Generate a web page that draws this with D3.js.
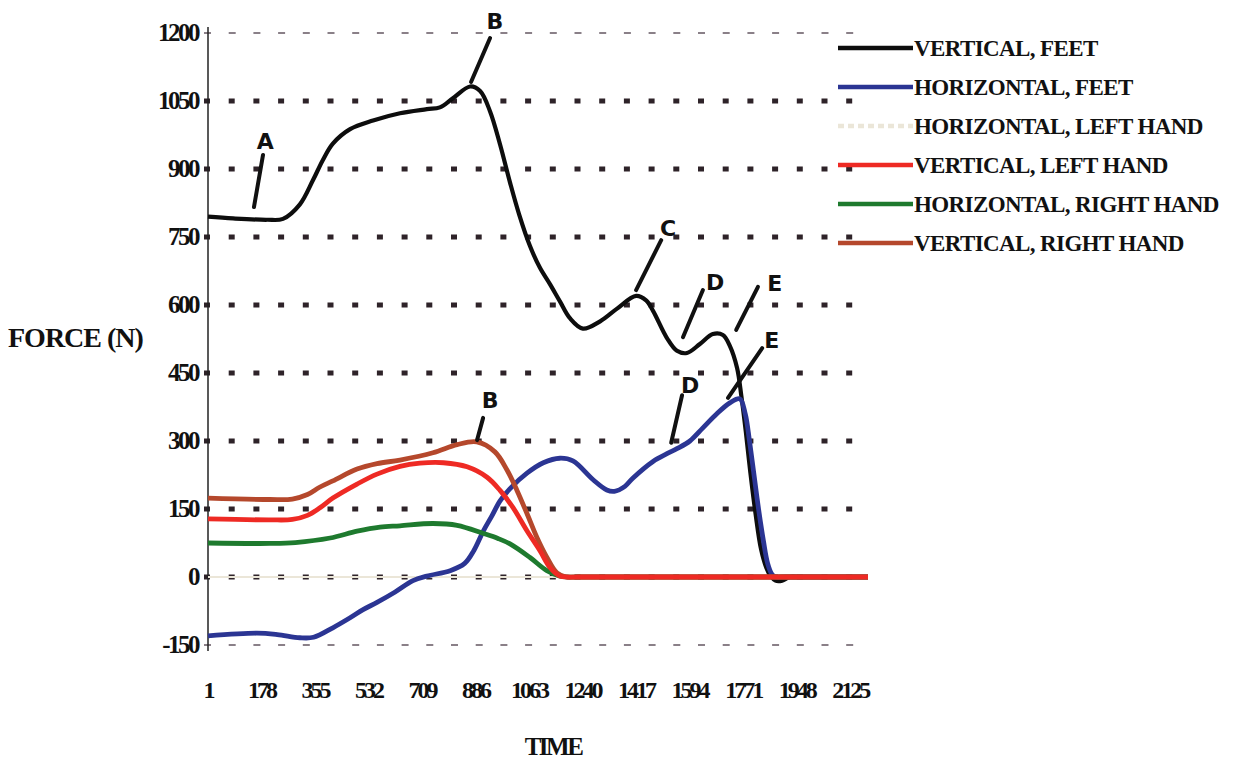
<!DOCTYPE html>
<html>
<head>
<meta charset="utf-8">
<script src="https://cdn.jsdelivr.net/npm/d3@7"></script>
<style>
  body { margin: 0; background: #fff; }
  text { font-family: "Liberation Serif", "Times New Roman", serif; font-weight: bold; fill: #111; }
  .note { font-family: "DejaVu Sans", sans-serif; font-weight: bold; }
</style>
</head>
<body>
<div id="chart"></div>
<script>
var width = 1255;
var height = 759;

// tick labels and series: [time, force in N]
var timeTicks = [1, 178, 355, 532, 709, 886, 1063, 1240, 1417, 1594, 1771, 1948, 2125];
var forceTicks = [-150, 0, 150, 300, 450, 600, 750, 900, 1050, 1200];

var verticalFeet = [[1,795],[84,791],[196,788],[249,790],[305,822],[348,875],[381,920],[414,956],[471,988],
    [547,1007],[636,1023],[725,1032],[768,1036],[811,1056],[868,1082],[901,1072],[934,1027],[967,954],
    [1000,870],[1030,800],[1066,730],[1099,682],[1132,646],[1165,608],[1198,571],[1241,548],[1298,564],
    [1354,592],[1417,620],[1450,610],[1473,587],[1519,527],[1552,499],[1585,494],[1628,514],[1671,536],
    [1704,534],[1727,510],[1751,461],[1765,400],[1780,320],[1795,230],[1812,140],[1830,62],[1848,20],
    [1862,2],[1878,-8],[1900,-8],[1925,0],[1960,0],[2184,0]];
var horizontalFeet = [[1,-130],[163,-124],[230,-127],[305,-134],[350,-133],[414,-112],[471,-90],[514,-72],
    [560,-56],[620,-33],[679,-8],[725,2],[802,14],[850,30],[880,58],[912,102],[940,135],[967,168],[1000,195],
    [1056,229],[1110,252],[1165,262],[1208,256],[1274,215],[1320,192],[1345,189],[1380,200],[1406,218],
    [1473,255],[1519,272],[1552,283],[1595,300],[1638,329],[1684,360],[1727,384],[1760,393],[1778,360],
    [1792,300],[1808,220],[1822,150],[1838,80],[1852,30],[1866,6],[1878,0],[1910,0],[2184,0]];
var horizontalLeftHand = [[1,0],[2184,0]];
var verticalLeftHand = [[1,128],[206,126],[280,127],[330,136],[370,152],[414,174],[494,205],[560,227],
    [636,244],[702,251],[780,252],[858,243],[924,220],[967,191],[1010,153],[1056,102],[1099,58],[1132,21],
    [1165,2],[1190,0],[1230,0],[2184,0]];
var horizontalRightHand = [[1,75],[206,74],[290,76],[405,86],[494,101],[570,110],[636,113],[745,118],
    [825,114],[912,96],[960,85],[1000,73],[1066,43],[1122,14],[1165,2],[1190,0],[1230,0],[2184,0]];
var verticalRightHand = [[1,174],[206,171],[280,172],[330,182],[370,198],[414,212],[494,238],[560,250],
    [636,258],[745,274],[825,292],[890,298],[950,276],[990,236],[1023,191],[1056,140],[1089,87],[1122,43],
    [1155,9],[1185,0],[1225,0],[2184,0]];

var seriesNames = ["VERTICAL, FEET", "HORIZONTAL, FEET", "HORIZONTAL, LEFT HAND",
    "VERTICAL, LEFT HAND", "HORIZONTAL, RIGHT HAND", "VERTICAL, RIGHT HAND"];
var seriesData = [verticalFeet, horizontalFeet, horizontalLeftHand,
    verticalLeftHand, horizontalRightHand, verticalRightHand];
var seriesColors = ["#0d0d0d", "#2b3593", "#ebe6d8", "#ee2a24", "#1e7a2e", "#b5482c"];
// drawing order, so red sits on top like in the scan
var drawOrder = [2, 0, 1, 4, 5, 3];

// hand-written marks on the figure: letter position and the stroke pointing to the curve
var notes = [
    { label: "A", at: [190, 962], from: [183, 931], to: [153, 816] },
    { label: "B", at: [950, 1226], from: [934, 1189], to: [871, 1092] },
    { label: "C", at: [1523, 770], from: [1500, 743], to: [1417, 633] },
    { label: "D", at: [1678, 651], from: [1638, 633], to: [1572, 529] },
    { label: "E", at: [1876, 649], from: [1820, 640], to: [1748, 545] },
    { label: "E", at: [1866, 523], from: [1834, 505], to: [1721, 395] },
    { label: "D", at: [1596, 424], from: [1569, 401], to: [1533, 296] },
    { label: "B", at: [934, 390], from: [911, 351], to: [891, 302] }
];

var x = d3.scaleLinear().domain([1, 2184]).range([208, 868]);
var y = d3.scaleLinear().domain([-150, 1200]).range([645, 33]);

var svg = d3.select("#chart")
    .append("svg")
    .attr("width", width)
    .attr("height", height);

// dotted gridlines
svg.append("g")
    .attr("id", "grid")
    .selectAll("line")
    .data(forceTicks)
    .enter()
        .append("line")
        .attr("x1", x(1) - 4)
        .attr("x2", x(2125) + 12)
        .attr("y1", function(d){ return y(d); })
        .attr("y2", function(d){ return y(d); })
        .attr("stroke", function(d){ return (d == 1200 || d == -150) ? "#8a8088" : "#2e2329"; })
        .attr("stroke-width", function(d){ return (d == 1200 || d == -150) ? 2 : 5; })
        .attr("stroke-dasharray", function(d){ return (d == 1200 || d == -150) ? "7,17.7" : "6,18.7"; });

// y axis
var yAxis = svg.append("g").attr("id", "yAxis");
yAxis.append("line")
    .attr("x1", x(1)).attr("x2", x(1))
    .attr("y1", y(1200) - 6).attr("y2", y(-150) + 6)
    .attr("stroke", "#222")
    .attr("stroke-width", 1.5);
yAxis.selectAll("text")
    .data(forceTicks)
    .enter()
        .append("text")
        .attr("x", x(1) - 10)
        .attr("y", function(d){ return y(d) + 8; })
        .attr("text-anchor", "end")
        .attr("font-size", 25)
        .attr("letter-spacing", -2.5)
        .text(function(d){ return d; });

// x tick labels
svg.append("g")
    .attr("id", "xAxis")
    .selectAll("text")
    .data(timeTicks)
    .enter()
        .append("text")
        .attr("x", function(d){ return x(d); })
        .attr("y", 698)
        .attr("text-anchor", "middle")
        .attr("font-size", 24)
        .attr("letter-spacing", -3)
        .text(function(d){ return d; });

svg.append("text")
    .attr("x", 8)
    .attr("y", 347)
    .attr("font-size", 28)
    .attr("letter-spacing", -1)
    .text("FORCE (N)");

svg.append("text")
    .attr("x", 553)
    .attr("y", 755)
    .attr("text-anchor", "middle")
    .attr("font-size", 25)
    .attr("letter-spacing", -2.5)
    .text("TIME");

// curves
var line = d3.line()
    .x(function(d){ return x(d[0]); })
    .y(function(d){ return y(d[1]); })
    .curve(d3.curveCatmullRom.alpha(0.5));

svg.append("g")
    .attr("id", "curves")
    .selectAll("path")
    .data(drawOrder)
    .enter()
        .append("path")
        .attr("d", function(i){ return line(seriesData[i]); })
        .attr("fill", "none")
        .attr("stroke", function(i){ return seriesColors[i]; })
        .attr("stroke-width", function(i){ return i == 2 ? 2 : (i == 0 ? 4.2 : 4.8); })
        .attr("stroke-linejoin", "round");

// hand-written notes
var noteGroup = svg.append("g").attr("id", "notes");
noteGroup.selectAll("line")
    .data(notes)
    .enter()
        .append("line")
        .attr("x1", function(d){ return x(d.from[0]); })
        .attr("y1", function(d){ return y(d.from[1]); })
        .attr("x2", function(d){ return x(d.to[0]); })
        .attr("y2", function(d){ return y(d.to[1]); })
        .attr("stroke", "#111")
        .attr("stroke-width", 4)
        .attr("stroke-linecap", "round");
noteGroup.selectAll("text")
    .data(notes)
    .enter()
        .append("text")
        .attr("class", "note")
        .attr("x", function(d){ return x(d.at[0]); })
        .attr("y", function(d){ return y(d.at[1]) + 8; })
        .attr("text-anchor", "middle")
        .attr("font-size", 22)
        .text(function(d){ return d.label; });

// legend
var legend = svg.append("g")
    .attr("id", "legend")
    .selectAll("g")
    .data(seriesNames)
    .enter()
        .append("g")
        .attr("transform", function(d,i){ return "translate(838," + (48 + i * 39) + ")"; });

legend.append("line")
    .attr("x1", 0).attr("x2", 75)
    .attr("y1", 0).attr("y2", 0)
    .attr("stroke", function(d,i){ return seriesColors[i]; })
    .attr("stroke-width", 4.5)
    .attr("stroke-dasharray", function(d,i){ return i == 2 ? "6,4" : null; });

legend.append("text")
    .attr("x", 76)
    .attr("y", 8)
    .attr("font-size", 23)
    .attr("letter-spacing", -0.6)
    .text(function(d){ return d; });
</script>
</body>
</html>
